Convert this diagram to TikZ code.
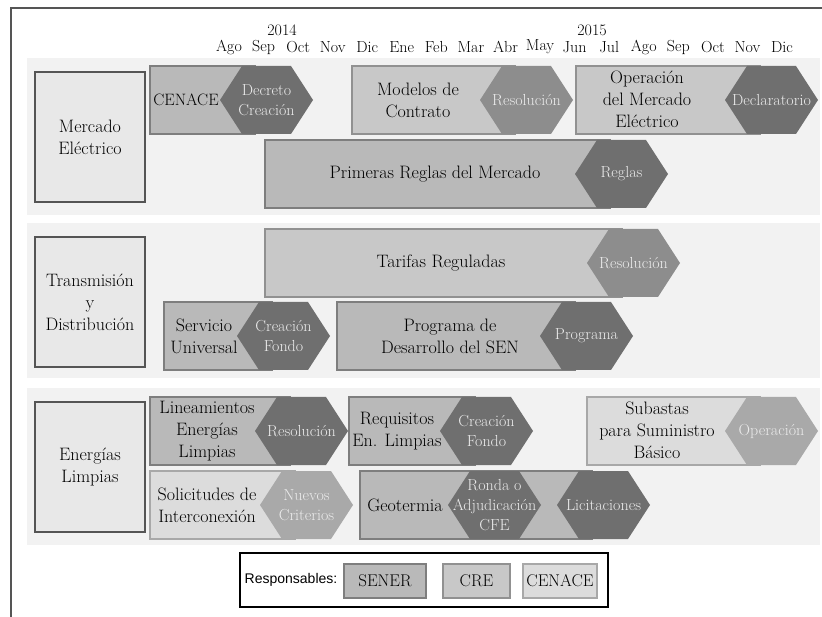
\documentclass[tikz,border=0pt]{standalone}
\usepackage{fontspec}
\usepackage{tikz}
\newfontfamily\legendfont{Liberation Sans}

\definecolor{framegray}{HTML}{555555}
\definecolor{rowgray}{HTML}{F2F2F2}
\definecolor{areagray}{HTML}{E8E8E8}
\definecolor{senerfill}{HTML}{B9B9B9}
\definecolor{senerline}{HTML}{7E7E7E}
\definecolor{crefill}{HTML}{C8C8C8}
\definecolor{creline}{HTML}{919191}
\definecolor{cenacefill}{HTML}{DCDCDC}
\definecolor{cenaceline}{HTML}{A8A8A8}
\definecolor{hexsenercol}{HTML}{6F6F6F}
\definecolor{hexcrecol}{HTML}{8D8D8D}
\definecolor{hexcenacecol}{HTML}{A9A9A9}

\tikzset{
  rowband/.style={fill=rowgray},
  areabox/.style={draw=framegray, fill=areagray, line width=1.2pt, minimum width=110, minimum height=130, align=center, font=\fontsize{18}{22}\selectfont},
  sener/.style={fill=senerfill, draw=senerline, line width=2pt},
  cre/.style={fill=crefill, draw=creline, line width=2pt},
  cenace/.style={fill=cenacefill, draw=cenaceline, line width=2pt},
  hexsener/.style={fill=hexsenercol},
  hexcre/.style={fill=hexcrecol},
  hexcenace/.style={fill=hexcenacecol},
  bartext/.style={align=center, inner sep=0pt, font=\fontsize{18}{22}\selectfont},
  hextext/.style={align=center, inner sep=0pt, text=white!92!black, font=\fontsize{16}{20}\selectfont},
  month/.style={inner sep=0pt, font=\fontsize{16}{17}\selectfont},
}

% hexagon tag: name, left tip x, centre y, style, text
\newcommand{\hexbox}[5]{%
  \fill[#4] (#2,#3) -- ++(22,-34) -- ++(49,0) -- ++(22,34) -- ++(-22,34) -- ++(-49,0) -- cycle;
  \node[hextext] (#1) at ({#2+46.5},#3) {#5};
}

\begin{document}
\begin{tikzpicture}[x=1pt,y=-1pt]
  \useasboundingbox (0,0) rectangle (822,617);
  \draw[color=framegray, line width=1.2pt] (11,617) -- (11,8) -- (822,8);

  % months
  \node[month] (y2014) at (282,30) {2014};
  \node[month] (y2015) at (592,30) {2015};
  \foreach \m [count=\i from 0] in {Ago,Sep,Oct,Nov,Dic,Ene,Feb,Mar,Abr,May,Jun,Jul,Ago,Sep,Oct,Nov,Dic}
    \node[month] (m\i) at (229+34.56*\i,47) {\m};

  % bands
  \fill[rowband] (27,58) rectangle (820,215);
  \fill[rowband] (27,223) rectangle (820,378);
  \fill[rowband] (27,388) rectangle (820,545);

  \node[areabox] (mercado) at (90,137) {Mercado\\Eléctrico};
  \node[areabox] (transmision) at (90,302) {Transmisión\\y\\Distribución};
  \node[areabox] (limpias) at (90,467) {Energías\\Limpias};

  % Mercado Electrico
  \draw[sener] (150,66) rectangle (255,134);
  \node[bartext, font=\fontsize{16.5}{18}\selectfont] (cenacebar) at (186,100) {CENACE};
  \hexbox{decreto}{220}{100}{hexsener}{Decreto\\Creación}

  \draw[cre] (352,66) rectangle (515,134);
  \node[bartext] (modelos) at (418,100) {Modelos de\\Contrato};
  \hexbox{resmodelos}{480}{100}{hexcre}{Resolución}

  \draw[cre] (576,66) rectangle (760,134);
  \node[bartext] (operacion) at (647,99) {Operación\\del Mercado\\Eléctrico};
  \hexbox{declaratorio}{725}{100}{hexsener}{Declaratorio}

  \draw[sener] (265,140) rectangle (610,208);
  \node[bartext] (reglasbar) at (435,174) {Primeras Reglas del Mercado};
  \hexbox{reglas}{575}{174}{hexsener}{Reglas}

  % Transmision y Distribucion
  \draw[cre] (265,229) rectangle (622,297);
  \node[bartext] (tarifas) at (441,263) {Tarifas Reguladas};
  \hexbox{restarifas}{587}{263}{hexcre}{Resolución}

  \draw[sener] (164,302) rectangle (272,370);
  \node[bartext] (servicio) at (204,336) {Servicio\\Universal};
  \hexbox{fondoservicio}{237}{336}{hexsener}{Creación\\Fondo}

  \draw[sener] (337,302) rectangle (575,370);
  \node[bartext] (desarrollo) at (450,336) {Programa de\\Desarrollo del SEN};
  \hexbox{programa}{540}{336}{hexsener}{Programa}

  % Energias Limpias
  \draw[sener] (150,397) rectangle (290,465);
  \node[bartext] (lineamientos) at (207,431) {Lineamientos\\Energías\\Limpias};
  \hexbox{reslineamientos}{255}{431}{hexsener}{Resolución}

  \draw[sener] (349,397) rectangle (475,465);
  \node[bartext] (requisitos) at (397,431) {Requisitos\\En. Limpias};
  \hexbox{fondorequisitos}{440}{431}{hexsener}{Creación\\Fondo}

  \draw[cenace] (587,397) rectangle (760,465);
  \node[bartext] (subastas) at (657,430) {Subastas\\para Suministro\\Básico};
  \hexbox{opsubastas}{725}{431}{hexcenace}{Operación}

  \draw[cenace] (150,471) rectangle (295,539);
  \node[bartext] (solicitudes) at (207,505) {Solicitudes de\\Interconexión};
  \hexbox{criterios}{260}{505}{hexcenace}{Nuevos\\Criterios}

  \draw[sener] (360,471) rectangle (592,539);
  \node[bartext] (geotermia) at (405,505) {Geotermia};
  \hexbox{ronda}{448}{505}{hexsener}{Ronda o\\Adjudicación\\CFE}
  \hexbox{licitaciones}{557}{505}{hexsener}{Licitaciones}

  % legend
  \draw[line width=1.2pt, fill=white] (240,553) rectangle (608,607);
  \node[font=\legendfont\fontsize{14}{16}\selectfont] (responsables) at (291,580) {Responsables:};
  \node[sener, minimum width=82, minimum height=34, font=\fontsize{17}{19}\selectfont] (legsener) at (385,580.5) {SENER};
  \node[cre, minimum width=67, minimum height=34, font=\fontsize{17}{19}\selectfont] (legcre) at (476.5,580.5) {CRE};
  \node[cenace, minimum width=72, minimum height=34, font=\fontsize{17}{19}\selectfont] (legcenace) at (560,580.5) {CENACE};
\end{tikzpicture}
\end{document}
